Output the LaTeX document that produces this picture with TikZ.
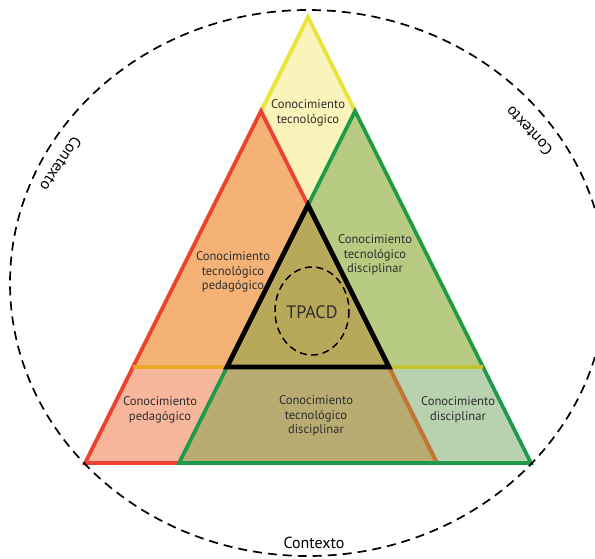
\documentclass[tikz,border=0pt]{standalone}
\usepackage{fontspec}
\setmainfont{PT Sans}
\definecolor{txt}{HTML}{2E2E2E}
\definecolor{fyel}{HTML}{FAF4BA}
\definecolor{fora}{HTML}{F4B277}
\definecolor{fgre}{HTML}{B7CB82}
\definecolor{fcen}{HTML}{B8A85A}
\definecolor{fsal}{HTML}{F7B79D}
\definecolor{fmid}{HTML}{B8AC72}
\definecolor{frig}{HTML}{B8D1AF}
\definecolor{syel}{HTML}{EAE338}
\definecolor{sred}{HTML}{EE4230}
\definecolor{sgre}{HTML}{1F9A4A}
\definecolor{sbro}{HTML}{C07835}
\definecolor{sbyl}{HTML}{EFAA25}
\definecolor{sbyr}{HTML}{C2C232}
\begin{document}
\begin{tikzpicture}[x=1pt,y=-1pt,
  lbl/.style={font=\fontsize{12.6}{14.5}\selectfont, text=txt, align=center, inner sep=0pt},
  ctx/.style={font=\fontsize{16}{18}\selectfont, text=black, inner sep=0pt},
  edge/.style={line width=3.8pt, line join=miter, line cap=butt},
  dashline/.style={black, line width=1.7pt, dash pattern=on 9pt off 6pt}]
\useasboundingbox (0,0) rectangle (595,558);
\clip (0,0) rectangle (595,558);
% key points
\coordinate (A)  at (308,17);
\coordinate (R)  at (261,111);
\coordinate (G)  at (355,111);
\coordinate (K)  at (308,205);
\coordinate (BL) at (85,463);
\coordinate (BR) at (531,463);
\coordinate (RB) at (437,463);
\coordinate (GB) at (179,463);
\coordinate (YL) at (133,367);
\coordinate (YR) at (483,367);
\coordinate (KL) at (227,367);
\coordinate (KR) at (389,367);
% fills
\fill[fyel] (A) -- (R) -- (K) -- (G) -- cycle;
\fill[fora] (R) -- (YL) -- (KL) -- (K) -- cycle;
\fill[fgre] (G) -- (K) -- (KR) -- (YR) -- cycle;
\fill[fcen] (K) -- (KL) -- (KR) -- cycle;
\fill[fsal] (YL) -- (BL) -- (GB) -- (KL) -- cycle;
\fill[fmid] (KL) -- (GB) -- (RB) -- (KR) -- cycle;
\fill[frig] (KR) -- (RB) -- (BR) -- (YR) -- cycle;
% outlines
\draw[edge, syel] (A) -- (YL) -- (YR) -- cycle;
\draw[edge, sred] (BL) -- (R) -- (RB) -- cycle;
\draw[edge, sgre] (GB) -- (G) -- (BR) -- cycle;
\draw[edge, sbro] (KR) -- (RB);
\draw[edge, sgre] (GB) -- (BR);
\draw[edge, sbyl] (YL) -- (KL);
\draw[edge, sbyr] (KR) -- (YR);
\draw[line width=4.8pt, line join=miter, black] (K) -- (KL) -- (KR) -- cycle;
% dashed ellipses
\draw[dashline] (308,283) ellipse [x radius=298, y radius=273];
\draw[dashline, line width=1.5pt, dash pattern=on 7pt off 4.5pt] (312,311) ellipse [x radius=37, y radius=44];
% labels
\node[lbl] (ct)  at (308,113) {Conocimiento\\tecnológico};
\node[lbl] (ctp) at (233,272) {Conocimiento\\tecnológico\\pedagógico};
\node[lbl] (ctd) at (375,255) {Conocimiento\\tecnológico\\disciplinar};
\node[lbl, font=\fontsize{18}{20}\selectfont] (tp) at (312,312) {TPACD};
\node[lbl] (cp)  at (160,410) {Conocimiento\\pedagógico};
\node[lbl] (cdt) at (316,416) {Conocimiento\\tecnológico\\disciplinar};
\node[lbl] (cd)  at (458,410) {Conocimiento\\disciplinar};
\node[ctx] (cx1) at (314,543) {Contexto};
\node[ctx, rotate=-124] (cx2) at (61,164) {Contexto};
\node[ctx, rotate=133] (cx3) at (529,131) {Contexto};
\end{tikzpicture}
\end{document}
